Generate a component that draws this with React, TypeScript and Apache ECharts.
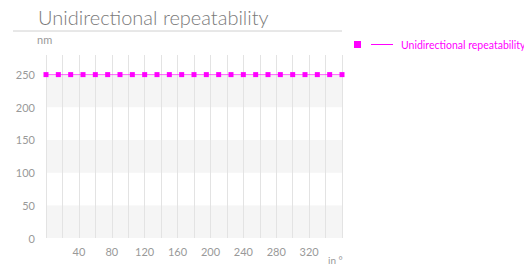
import React, { useEffect, useRef } from "react";
import * as echarts from "echarts";

const seriesName = "Unidirectional repeatability";
const angles = [0, 15, 30, 45, 60, 75, 90, 105, 120, 135, 150, 165, 180, 195, 210, 225, 240, 255, 270, 285, 300, 315, 330, 345, 360];
const values = [250, 250, 250, 250, 250, 250, 250, 250, 250, 250, 250, 250, 250, 250, 250, 250, 250, 250, 250, 250, 250, 250, 250, 250, 250];
const yTicks = [0, 50, 100, 150, 200, 250];
const xTicks = [40, 80, 120, 160, 200, 240, 280, 320];

const FONT = "Lato, 'Open Sans', sans-serif";
const MAGENTA = "#ff00ff";

export default function App() {
  const ref = useRef<HTMLDivElement>(null);
  useEffect(() => {
    if (!ref.current) return;
    const chart = echarts.init(ref.current, null, { renderer: "svg" });
    chart.setOption({
      animation: false,
      textStyle: { fontFamily: FONT },
      grid: { left: 46, right: 182, top: 55, bottom: 27, containLabel: false },
      graphic: [
        {
          type: "text",
          left: 38,
          top: 7,
          style: { text: seriesName, fontSize: 20, fill: "#7a7a7a", fontFamily: FONT, fontWeight: 300 },
        },
        {
          type: "line",
          shape: { x1: 13, y1: 31, x2: 342, y2: 31 },
          style: { stroke: "#d0d0d0", lineWidth: 1 },
        },
        {
          type: "text",
          left: 37,
          top: 34,
          style: { text: "nm", fontSize: 11, fill: "#999", fontFamily: FONT },
        },
        {
          type: "text",
          left: 328,
          top: 255,
          style: { text: "in °", fontSize: 10, fill: "#999", fontFamily: FONT },
        },
      ],
      legend: {
        show: true,
        left: 354,
        top: 39,
        padding: 0,
        icon: "path://M0,0h7v7h-7z M17,3h22v1h-22z",
        itemWidth: 39,
        itemHeight: 7,
        itemGap: 5,
        itemStyle: { color: MAGENTA, borderWidth: 0 },
        lineStyle: { color: MAGENTA, width: 0 },
        textStyle: { color: MAGENTA, fontSize: 10.5, fontFamily: FONT, padding: [0, 0, 0, 3] },
        data: [{ name: seriesName, itemStyle: { color: MAGENTA, borderWidth: 0 } }],
      },
      xAxis: {
        type: "value",
        min: 0,
        max: 360,
        interval: 20,
        axisLine: { show: false },
        axisTick: { show: false },
        splitLine: { show: true, lineStyle: { color: "#e3e3e3", width: 1 } },
        axisLabel: {
          color: "#999",
          fontSize: 11,
          margin: 8,
          showMinLabel: false,
          showMaxLabel: false,
          formatter: (v: number) => (xTicks.includes(v) ? String(v) : ""),
        },
      },
      yAxis: {
        type: "value",
        min: 0,
        max: 280,
        interval: 50,
        axisLine: { show: false },
        axisTick: { show: false },
        splitLine: { show: false },
        splitArea: { show: true, areaStyle: { color: ["#f5f5f5", "#ffffff"] } },
        axisLabel: {
          color: "#999",
          fontSize: 11,
          margin: 11,
          showMaxLabel: false,
          formatter: (v: number) => (yTicks.includes(v) ? String(v) : ""),
        },
      },
      series: [
        {
          name: seriesName,
          type: "line",
          data: angles.map((a, i) => [a, values[i]]),
          symbol: "rect",
          symbolSize: 5,
          itemStyle: { color: MAGENTA },
          lineStyle: { color: MAGENTA, width: 1, opacity: 0.6 },
          clip: false,
        },
      ],
    });
    return () => chart.dispose();
  }, []);
  return <div ref={ref} style={{ width: 524, height: 265, position: "absolute", left: 0, top: 0 }} />;
}
